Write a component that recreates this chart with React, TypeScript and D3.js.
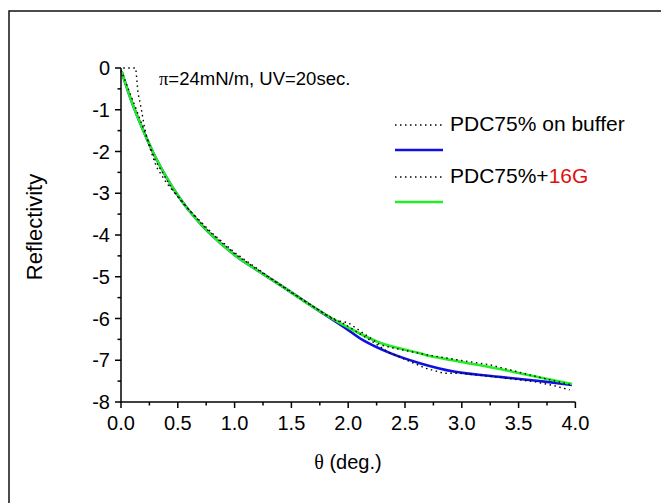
import React from "react";
import * as d3 from "d3";

// Fitted curves (solid)
const bufferFitTheta = [0.005, 0.1, 0.2, 0.3, 0.4, 0.5, 0.6, 0.77, 1.02, 1.22, 1.43, 1.69, 1.96, 2.13, 2.37, 2.63, 2.93, 3.37, 3.66, 3.97];
const bufferFitR = [-0.08, -0.85, -1.52, -2.12, -2.62, -3.05, -3.42, -3.93, -4.52, -4.88, -5.25, -5.72, -6.2, -6.52, -6.83, -7.07, -7.27, -7.41, -7.49, -7.59];

const g16FitTheta = [0.005, 0.1, 0.2, 0.3, 0.4, 0.5, 0.6, 0.77, 1.02, 1.22, 1.43, 1.69, 1.99, 2.28, 2.63, 2.72, 3.22, 3.51, 3.97];
const g16FitR = [-0.08, -0.85, -1.52, -2.12, -2.62, -3.05, -3.42, -3.93, -4.52, -4.88, -5.25, -5.72, -6.2, -6.58, -6.83, -6.9, -7.15, -7.31, -7.57];

// Measured data (dotted)
const bufferDataTheta = [0.02, 0.13, 0.15, 0.18, 0.205, 0.24, 0.31, 0.4, 0.55, 0.75, 1.0, 1.25, 1.5, 1.81, 1.96, 2.21, 2.35, 2.5, 2.68, 2.84, 2.98, 3.3, 3.63, 3.8, 3.95];
const bufferDataR = [0, 0, -0.6, -1.0, -1.4, -1.8, -2.36, -2.75, -3.25, -3.85, -4.45, -4.92, -5.38, -5.92, -6.12, -6.55, -6.8, -6.98, -7.19, -7.31, -7.31, -7.4, -7.51, -7.6, -7.71];

const g16DataTheta = [0.0, 0.15, 0.3, 0.45, 0.6, 0.8, 1.0, 1.3, 1.6, 1.88, 2.0, 2.28, 2.37, 2.69, 3.01, 3.25, 3.48, 3.7, 3.95];
const g16DataR = [-0.05, -1.1, -2.2, -2.9, -3.4, -3.95, -4.42, -5.0, -5.55, -6.04, -6.1, -6.63, -6.69, -6.87, -7.01, -7.11, -7.27, -7.42, -7.58];

const xMajorTicks = [0, 0.5, 1.0, 1.5, 2.0, 2.5, 3.0, 3.5, 4.0];
const xMinorTicks = [0.25, 0.75, 1.25, 1.75, 2.25, 2.75, 3.25, 3.75];
const yMajorTicks = [0, -1, -2, -3, -4, -5, -6, -7, -8];
const yMinorTicks = [-0.5, -1.5, -2.5, -3.5, -4.5, -5.5, -6.5, -7.5];

const FONT = "'Liberation Sans', Arial, sans-serif";

export default function App() {
  const x = d3.scaleLinear().domain([0, 4]).range([121, 575.4]);
  const y = d3.scaleLinear().domain([0, -8]).range([68, 402]);

  const zip = (xs: number[], ys: number[]) => xs.map((v, i) => [v, ys[i]] as [number, number]);
  const smooth = d3.line<[number, number]>().x(d => x(d[0])).y(d => y(d[1])).curve(d3.curveCatmullRom.alpha(0.5));
  const straight = d3.line<[number, number]>().x(d => x(d[0])).y(d => y(d[1]));

  const x0 = x(0);
  const yBottom = y(-8);

  return (
    <svg width={661} height={503} style={{ position: "absolute", left: 0, top: 0 }}>
      <rect x={0} y={0} width={661} height={503} fill="white" />
      <rect x={9} y={11} width={700} height={600} fill="none" stroke="#111" strokeWidth={1.5} />

      {/* fits */}
      <path d={smooth(zip(bufferFitTheta, bufferFitR)) || ""} fill="none" stroke="#1010e0" strokeWidth={2.6} />
      <path d={smooth(zip(g16FitTheta, g16FitR)) || ""} fill="none" stroke="#22ee22" strokeWidth={2.6} />
      {/* data */}
      <path d={straight(zip(bufferDataTheta, bufferDataR)) || ""} fill="none" stroke="#000" strokeWidth={1.4} strokeDasharray="1.5,3.5" />
      <path d={straight(zip(g16DataTheta, g16DataR)) || ""} fill="none" stroke="#000" strokeWidth={1.4} strokeDasharray="1.5,3.5" />

      {/* axes */}
      <line x1={x0} y1={y(0)} x2={x0} y2={yBottom} stroke="#000" strokeWidth={1.5} />
      <line x1={x0} y1={yBottom} x2={x(4)} y2={yBottom} stroke="#000" strokeWidth={1.5} />
      {yMajorTicks.map(t => (
        <g key={"ym" + t}>
          <line x1={x0 - 6} x2={x0} y1={y(t)} y2={y(t)} stroke="#000" strokeWidth={1.5} />
          <text x={x0 - 11} y={y(t) + 7} textAnchor="end" fontFamily={FONT} fontSize={20}>{t === 0 ? "0" : String(t)}</text>
        </g>
      ))}
      {yMinorTicks.map(t => (
        <line key={"yn" + t} x1={x0 - 3.5} x2={x0} y1={y(t)} y2={y(t)} stroke="#000" strokeWidth={1.5} />
      ))}
      {xMajorTicks.map(t => (
        <g key={"xm" + t}>
          <line x1={x(t)} x2={x(t)} y1={yBottom} y2={yBottom + 6} stroke="#000" strokeWidth={1.5} />
          <text x={x(t)} y={yBottom + 28} textAnchor="middle" fontFamily={FONT} fontSize={20}>{t.toFixed(1)}</text>
        </g>
      ))}
      {xMinorTicks.map(t => (
        <line key={"xn" + t} x1={x(t)} x2={x(t)} y1={yBottom} y2={yBottom + 3.5} stroke="#000" strokeWidth={1.5} />
      ))}

      {/* axis titles */}
      <text transform="translate(42,227) rotate(-90)" textAnchor="middle" fontFamily={FONT} fontSize={22}>Reflectivity</text>
      <text x={348} y={469} textAnchor="middle" fontFamily={FONT} fontSize={20}>
        <tspan fontFamily="'Liberation Serif', serif">θ</tspan> (deg.)
      </text>

      {/* annotation */}
      <text x={159} y={85} fontFamily={FONT} fontSize={18.5}>
        <tspan fontFamily="'Liberation Serif', serif">π</tspan>=24mN/m, UV=20sec.
      </text>

      {/* legend */}
      <line x1={395} x2={443} y1={125} y2={125} stroke="#000" strokeWidth={1.4} strokeDasharray="1.5,3.5" />
      <text x={450} y={131} fontFamily={FONT} fontSize={21}>PDC75% on buffer</text>
      <line x1={395} x2={443} y1={150} y2={150} stroke="#1010e0" strokeWidth={2.6} />
      <line x1={395} x2={443} y1={177} y2={177} stroke="#000" strokeWidth={1.4} strokeDasharray="1.5,3.5" />
      <text x={450} y={183} fontFamily={FONT} fontSize={21}>
        PDC75%+<tspan fill="#e01010">16G</tspan>
      </text>
      <line x1={395} x2={443} y1={202} y2={202} stroke="#22ee22" strokeWidth={2.6} />
    </svg>
  );
}
